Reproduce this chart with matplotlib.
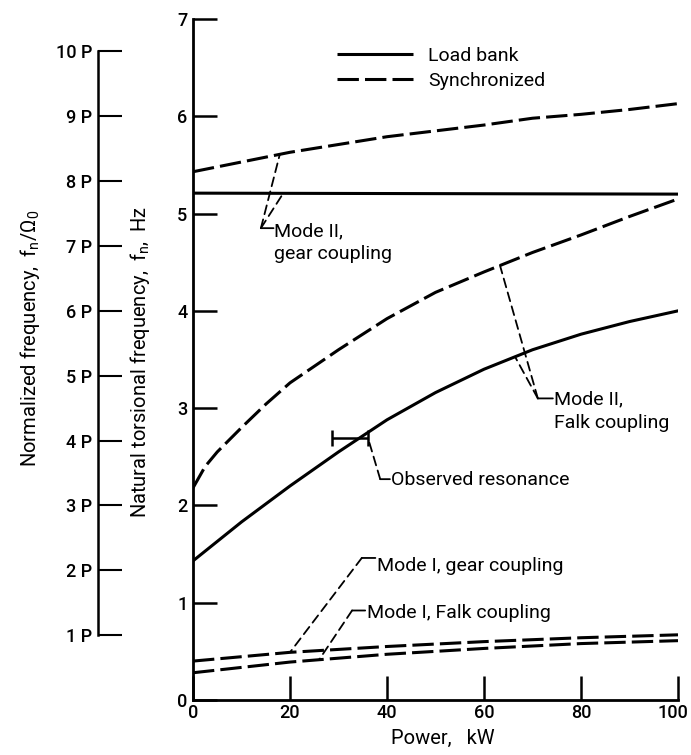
import numpy as np
import matplotlib
matplotlib.use("Agg")
import matplotlib.pyplot as plt
import matplotlib.transforms as mtransforms

FONT = 'Roboto'
plt.rcParams['font.family'] = [FONT, 'DejaVu Sans']
plt.rcParams['mathtext.fontset'] = 'custom'
plt.rcParams['mathtext.rm'] = FONT
plt.rcParams['mathtext.it'] = FONT
plt.rcParams['mathtext.bf'] = FONT

# ---------------- data ----------------
x_ticks = [0, 20, 40, 60, 80, 100]
y_ticks = [0, 1, 2, 3, 4, 5, 6, 7]

sync_gear_kw = [0, 10, 20, 30, 40, 50, 60, 70, 80, 90, 100]
sync_gear_hz = [5.43, 5.53, 5.63, 5.71, 5.79, 5.85, 5.91, 5.98, 6.02, 6.07, 6.13]

load_gear_kw = [0, 100]
load_gear_hz = [5.21, 5.20]

sync_falk_kw = [0, 2.5, 5, 10, 15, 20, 30, 40, 50, 60, 70, 80, 90, 100]
sync_falk_hz = [2.18, 2.40, 2.55, 2.80, 3.04, 3.26, 3.60, 3.92, 4.19, 4.40, 4.60, 4.78, 4.97, 5.15]

load_falk_kw = [0, 10, 20, 30, 40, 50, 60, 70, 80, 90, 100]
load_falk_hz = [1.43, 1.83, 2.20, 2.55, 2.88, 3.16, 3.40, 3.60, 3.76, 3.89, 4.00]

mode1_gear_kw = [0, 20, 40, 60, 80, 100]
mode1_gear_hz = [0.40, 0.49, 0.55, 0.60, 0.64, 0.67]

mode1_falk_kw = [0, 20, 40, 60, 80, 100]
mode1_falk_hz = [0.28, 0.39, 0.47, 0.53, 0.58, 0.61]

obs_kw_range = [28.6, 36.1]
obs_hz = 2.69

rotor_speed_hz = 40.0 / 60.0          # Omega_0 (1 P)
p_ticks = [1, 2, 3, 4, 5, 6, 7, 8, 9, 10]
p_labels = [f"{p} P" for p in p_ticks]

# ---------------- figure ----------------
W, H = 691, 755
fig = plt.figure(figsize=(W / 100, H / 100), dpi=100)
fig.patch.set_facecolor('white')

ax_l, ax_r, ax_t, ax_b = 193, 678, 19, 700
ax = fig.add_axes([ax_l / W, 1 - ax_b / H, (ax_r - ax_l) / W, (ax_b - ax_t) / H])
ax.set_xlim(0, 100)
ax.set_ylim(0, 7)
for s in ['top', 'right']:
    ax.spines[s].set_visible(False)
for s in ['left', 'bottom']:
    ax.spines[s].set_linewidth(2.0)
ax.set_xticks(x_ticks)
ax.set_yticks(y_ticks)
ax.tick_params(axis='both', direction='in', length=17, width=1.8, labelsize=13)
ax.tick_params(axis='x', pad=3)
ax.tick_params(axis='y', pad=4)
for lab in ax.get_xticklabels() + ax.get_yticklabels():
    lab.set_fontweight('medium')
last = ax.get_xticklabels()[-1]
last.set_transform(last.get_transform() + mtransforms.ScaledTranslation(-5 / 100, 0, fig.dpi_scale_trans))

LW = 2.2
DASH = (0, (7, 2))
ax.plot(load_gear_kw, load_gear_hz, color='black', lw=LW, label='Load bank', solid_capstyle='butt')
ax.plot(sync_gear_kw, sync_gear_hz, color='black', lw=LW, linestyle=DASH, label='Synchronized')
ax.plot(sync_falk_kw, sync_falk_hz, color='black', lw=LW, linestyle=DASH)
ax.plot(load_falk_kw, load_falk_hz, color='black', lw=LW)
ax.plot(mode1_gear_kw, mode1_gear_hz, color='black', lw=LW, linestyle=DASH)
ax.plot(mode1_falk_kw, mode1_falk_hz, color='black', lw=LW, linestyle=DASH)

# observed resonance range
obs_c = (obs_kw_range[0] + obs_kw_range[1]) / 2
obs_e = (obs_kw_range[1] - obs_kw_range[0]) / 2
ax.errorbar([obs_c], [obs_hz], xerr=[[obs_e], [obs_e]], fmt='none', ecolor='black',
            elinewidth=1.8, capsize=6, capthick=1.8)

FS = 14
leg = ax.legend(loc='upper left', bbox_to_anchor=((337 - ax_l) / (ax_r - ax_l), (ax_b - 47) / (ax_b - ax_t)),
                frameon=False, fontsize=FS, handlelength=3.9, handletextpad=0.8,
                labelspacing=0.35, borderpad=0, borderaxespad=0)

# ---------------- annotations ----------------
LLW = 1.3
LDASH = (0, (5, 3))


def leader(xy, elbow):
    ax.annotate("", xy=xy, xytext=elbow,
                arrowprops=dict(arrowstyle='-', lw=LLW, linestyle=LDASH, color='black',
                                shrinkA=0, shrinkB=0))


def stub(elbow, x_end):
    ax.annotate("", xy=(x_end, elbow[1]), xytext=elbow,
                arrowprops=dict(arrowstyle='-', lw=LLW, color='black', shrinkA=0, shrinkB=0))


# Mode II, gear coupling
e = (14.0, 4.85)
leader((17.9, np.interp(17.9, sync_gear_kw, sync_gear_hz)), e)
leader((18.6, np.interp(18.6, load_gear_kw, load_gear_hz)), e)
stub(e, 16.6)
ax.text(16.8, 4.91, "Mode II,\ngear coupling", fontsize=FS, ha='left', va='top', linespacing=1.35)

# Mode II, Falk coupling
e = (71.1, 3.10)
leader((63.3, np.interp(63.3, sync_falk_kw, sync_falk_hz)), e)
leader((66.4, np.interp(66.4, load_falk_kw, load_falk_hz)), e)
stub(e, 74.2)
ax.text(74.4, 3.18, "Mode II,\nFalk coupling", fontsize=FS, ha='left', va='top', linespacing=1.35)

# Observed resonance
e = (38.6, 2.27)
leader((obs_kw_range[1], obs_hz), e)
stub(e, 40.6)
ax.text(40.8, 2.26, "Observed resonance", fontsize=FS, ha='left', va='center')

# Mode I, gear coupling
e = (34.8, 1.46)
leader((20.0, np.interp(20.0, mode1_gear_kw, mode1_gear_hz)), e)
stub(e, 37.6)
ax.text(37.9, 1.38, "Mode I, gear coupling", fontsize=FS, ha='left', va='center')

# Mode I, Falk coupling
e = (32.8, 0.92)
leader((26.0, np.interp(26.0, mode1_falk_kw, mode1_falk_hz)), e)
stub(e, 35.5)
ax.text(35.8, 0.89, "Mode I, Falk coupling", fontsize=FS, ha='left', va='center')

# ---------------- normalized frequency axis ----------------
ax2 = fig.add_axes([98 / W, 1 - ax_b / H, 0.0001, (ax_b - ax_t) / H])
ax2.set_ylim(0, 7 / rotor_speed_hz)
ax2.patch.set_visible(False)
for s in ['top', 'right', 'bottom']:
    ax2.spines[s].set_visible(False)
ax2.spines['left'].set_bounds(p_ticks[0], p_ticks[-1])
ax2.spines['left'].set_linewidth(1.8)
ax2.set_xticks([])
ax2.set_yticks(p_ticks)
ax2.set_yticklabels(p_labels)
ax2.tick_params(axis='y', direction='in', length=17, width=1.5, labelsize=13, pad=4)
for lab in ax2.get_yticklabels():
    lab.set_fontweight('medium')

# ---------------- axis labels ----------------
LFS = 14.5
fig.text(443 / W, 1 - 738 / H, "Power,   kW", fontsize=LFS, ha='center', va='center')
fig.text(140 / W, 1 - 362 / H, r"Natural torsional frequency,  $f_n$,  Hz", fontsize=LFS,
         rotation=90, ha='center', va='center')
fig.text(30 / W, 1 - 338 / H, r"Normalized frequency,  $f_n/\Omega_0$", fontsize=LFS,
         rotation=90, ha='center', va='center')

fig.savefig("out.png", dpi=100, facecolor='white')
